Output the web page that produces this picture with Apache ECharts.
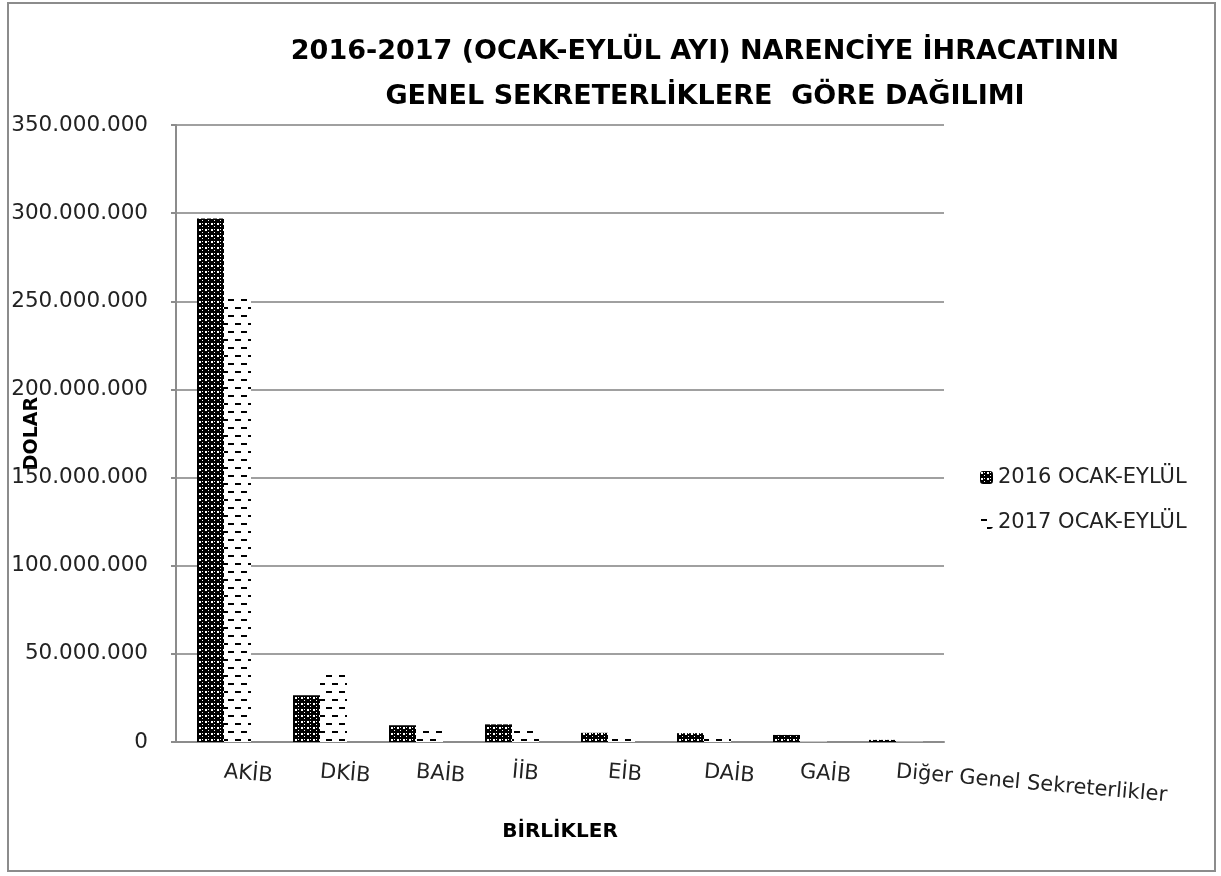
<!DOCTYPE html>
<html>
<head>
<meta charset="utf-8">
<script src="https://cdn.jsdelivr.net/npm/echarts@6/dist/echarts.min.js"></script>
<style>
html,body{margin:0;padding:0;background:#fff;}
#chart{width:1221px;height:876px;}
</style>
</head>
<body>
<div id="chart"></div>
<script>
var categories = ['AKİB', 'DKİB', 'BAİB', 'İİB', 'EİB', 'DAİB', 'GAİB', 'Diğer Genel Sekreterlikler'];
var seriesNames = ['2016 OCAK-EYLÜL', '2017 OCAK-EYLÜL'];
var values2016 = [297000000, 26500000, 9500000, 10000000, 5200000, 5000000, 4000000, 1200000];
var values2017 = [254000000, 40500000, 8500000, 8500000, 4500000, 2500000, 300000, 200000];
var yTicks = [0, 50000000, 100000000, 150000000, 200000000, 250000000, 300000000, 350000000];

function makePattern2016() {
  var c = document.createElement('canvas');
  c.width = 6; c.height = 6;
  var g = c.getContext('2d');
  g.fillStyle = '#000'; g.fillRect(0, 0, 6, 6);
  g.fillStyle = '#fff';
  g.fillRect(1, 1, 2, 2);
  g.fillRect(4, 4, 1, 1);
  g.fillRect(4, 1, 1, 1);
  return c;
}
function makePattern2017() {
  var c = document.createElement('canvas');
  c.width = 13; c.height = 16;
  var g = c.getContext('2d');
  g.fillStyle = '#fff'; g.fillRect(0, 0, 13, 16);
  g.fillStyle = '#000';
  g.fillRect(1, 3, 6, 2);
  g.fillRect(7, 11, 6, 2);
  return c;
}
var pat16 = { image: makePattern2016(), repeat: 'repeat' };
var pat17 = { image: makePattern2017(), repeat: 'repeat' };

function fmt(v) {
  return String(v).replace(/\B(?=(\d{3})+(?!\d))/g, '.');
}

var chart = echarts.init(document.getElementById('chart'), null, { renderer: 'canvas' });
var font = 'DejaVu Sans';
chart.setOption({
  animation: false,
  backgroundColor: '#fff',
  title: {
    text: '2016-2017 (OCAK-EYLÜL AYI) NARENCİYE İHRACATININ\nGENEL SEKRETERLİKLERE  GÖRE DAĞILIMI',
    left: 700, top: 24, textAlign: 'center',
    textStyle: { fontFamily: font, fontWeight: 'bold', fontSize: 27, lineHeight: 45, color: '#000' }
  },
  graphic: [{
    type: 'rect', shape: { x: 8, y: 3, width: 1207, height: 868 },
    style: { fill: 'none', stroke: '#8c8c8c', lineWidth: 2 }, silent: true
  }],
  legend: {
    orient: 'vertical', left: 975, top: 462, itemGap: 24,
    itemWidth: 13, itemHeight: 13,
    textStyle: { fontFamily: font, fontSize: 21, color: '#222' },
    data: [
      { name: seriesNames[0], itemStyle: { color: pat16 } },
      { name: seriesNames[1], itemStyle: { color: pat17 } }
    ]
  },
  grid: { left: 176, right: 277, top: 125, bottom: 134, containLabel: false, outerBoundsMode: 'none' },
  xAxis: {
    type: 'category', data: categories,
    name: 'BİRLİKLER', nameLocation: 'middle', nameGap: 80, nameMoveOverlap: false,
    nameTextStyle: { fontFamily: font, fontWeight: 'bold', fontSize: 20, color: '#000' },
    axisLine: { lineStyle: { color: '#8c8c8c', width: 2 } },
    axisTick: { show: false },
    axisLabel: { interval: 0, rotate: -5, margin: 30, fontFamily: font, fontSize: 21, color: '#222' }
  },
  yAxis: {
    type: 'value', min: 0, max: 350000000, interval: 50000000,
    name: 'DOLAR', nameLocation: 'middle', nameGap: 134, nameMoveOverlap: false,
    nameTextStyle: { fontFamily: font, fontWeight: 'bold', fontSize: 19, color: '#000' },
    axisLine: { show: true, lineStyle: { color: '#8c8c8c', width: 2 } },
    axisTick: { show: true, length: 5, lineStyle: { color: '#8c8c8c', width: 2 } },
    splitLine: { lineStyle: { color: '#a0a0a0', width: 2 } },
    axisLabel: { margin: 28, fontFamily: font, fontSize: 21.5, color: '#222',
      formatter: function (v) { return yTicks.indexOf(v) >= 0 ? fmt(v) : ''; } }
  },
  series: [
    { name: seriesNames[0], type: 'bar', data: values2016, barWidth: 27, barGap: '0%',
      itemStyle: { color: pat16 } },
    { name: seriesNames[1], type: 'bar', data: values2017, barWidth: 27, barGap: '0%',
      itemStyle: { color: pat17 } }
  ]
});
</script>
</body>
</html>
